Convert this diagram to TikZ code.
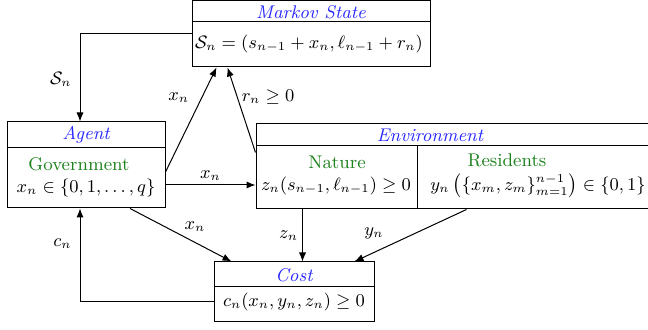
\documentclass[tikz,border=0pt]{standalone}
\usetikzlibrary{calc,arrows.meta}
\definecolor{ttl}{RGB}{40,40,255}
\definecolor{grn}{RGB}{30,130,30}
\begin{document}
\begin{tikzpicture}[x=0.5pt,y=-0.5pt,
  every node/.style={font=\fontsize{9pt}{11pt}\selectfont},
  box/.style={draw,line width=0.5pt,inner sep=0pt},
  sep/.style={line width=0.5pt},
  ttlt/.style={text=ttl,font=\fontsize{9.2pt}{11pt}\selectfont\itshape,inner sep=0pt},
  grnt/.style={text=grn,font=\fontsize{9.2pt}{11pt}\selectfont,inner sep=0pt},
  mth/.style={inner sep=0pt},
  conn/.style={-{Latex[length=4.5pt,width=3.6pt]},line width=0.5pt},
  lbl/.style={inner sep=2pt}]
\useasboundingbox (0,0) rectangle (648,330);
% Markov state
\node[box,minimum width=119pt,minimum height=33pt] (ms) at (311,34) {};
\draw[sep] ($(ms.north west)+(0,21)$) -- ($(ms.north east)+(0,21)$);
\node[ttlt] (mst) at (311,12) {Markov State};
\node[mth] (msf) at (309,44) {$\mathcal{S}_n=(s_{n-1}+x_n,\ell_{n-1}+r_n)$};
% Agent
\node[box,minimum width=79pt,minimum height=43pt] (ag) at (86,165) {};
\draw[sep] ($(ag.north west)+(0,26)$) -- ($(ag.north east)+(0,26)$);
\node[ttlt] (agt) at (86,135) {Agent};
\node[grnt] (agg) at (79,164) {Government};
\node[mth] (agf) at (86,188) {$x_n\in\{0,1,\ldots,q\}$};
% Environment
\node[box,minimum width=196pt,minimum height=42.5pt] (env) at (452,166.5) {};
\draw[sep] ($(env.north west)+(0,22)$) -- ($(env.north east)+(0,22)$);
\draw[sep] ($(env.south west)+(162,0)$) -- ($(env.north west)+(162,22)$);
\node[ttlt] (envt) at (430,135) {Environment};
\node[grnt] (nat) at (337,162) {Nature};
\node[mth] (natf) at (336,186) {$z_n(s_{n-1},\ell_{n-1})\geq 0$};
\node[grnt] (res) at (507,160) {Residents};
\node[mth] (resf) at (538,186) {$y_n\left(\{x_m,z_m\}_{m=1}^{n-1}\right)\in\{0,1\}$};
% Cost
\node[box,minimum width=80pt,minimum height=30pt] (cost) at (294,292) {};
\draw[sep] ($(cost.north west)+(0,25)$) -- ($(cost.north east)+(0,25)$);
\node[ttlt] (costt) at (294,275) {Cost};
\node[mth] (costf) at (294,302) {$c_n(x_n,y_n,z_n)\geq 0$};
% connectors
\draw[conn] (ms.west) -| node[lbl,pos=0.76,left=2pt] {$\mathcal{S}_n$} ($(ag.north)+(-6,0)$);
\draw[conn] ($(ag.east)+(0,7)$) -- node[lbl,pos=0.71,left=4pt] {$x_n$} ($(ms.south west)+(25,0)$);
\draw[conn] ($(env.west)+(0,-14)$) -- node[lbl,pos=0.65,right=0pt] {$r_n\geq 0$} ($(ms.south west)+(36,0)$);
\coordinate (axe) at ($(ag.east)+(0,20)$);
\draw[conn] (axe) -- node[lbl,above] {$x_n$} (axe -| env.west);
\draw[conn] ($(ag.south)+(44,0)$) -- node[lbl,pos=0.64,above=3pt] {$x_n$} ($(cost.north west)+(18,0)$);
\draw[conn] ($(env.south west)+(47,0)$) -- node[lbl,midway,left] {$z_n$} ($(cost.north west)+(89,0)$);
\draw[conn] ($(env.south west)+(211,0)$) -- node[lbl,pos=0.45,left=14pt] {$y_n$} ($(cost.north west)+(141,0)$);
\draw[conn] ($(cost.west)+(0,10)$) -| node[lbl,pos=0.81,left=2pt] {$c_n$} ($(ag.south)+(-6,0)$);
\end{tikzpicture}
\end{document}
